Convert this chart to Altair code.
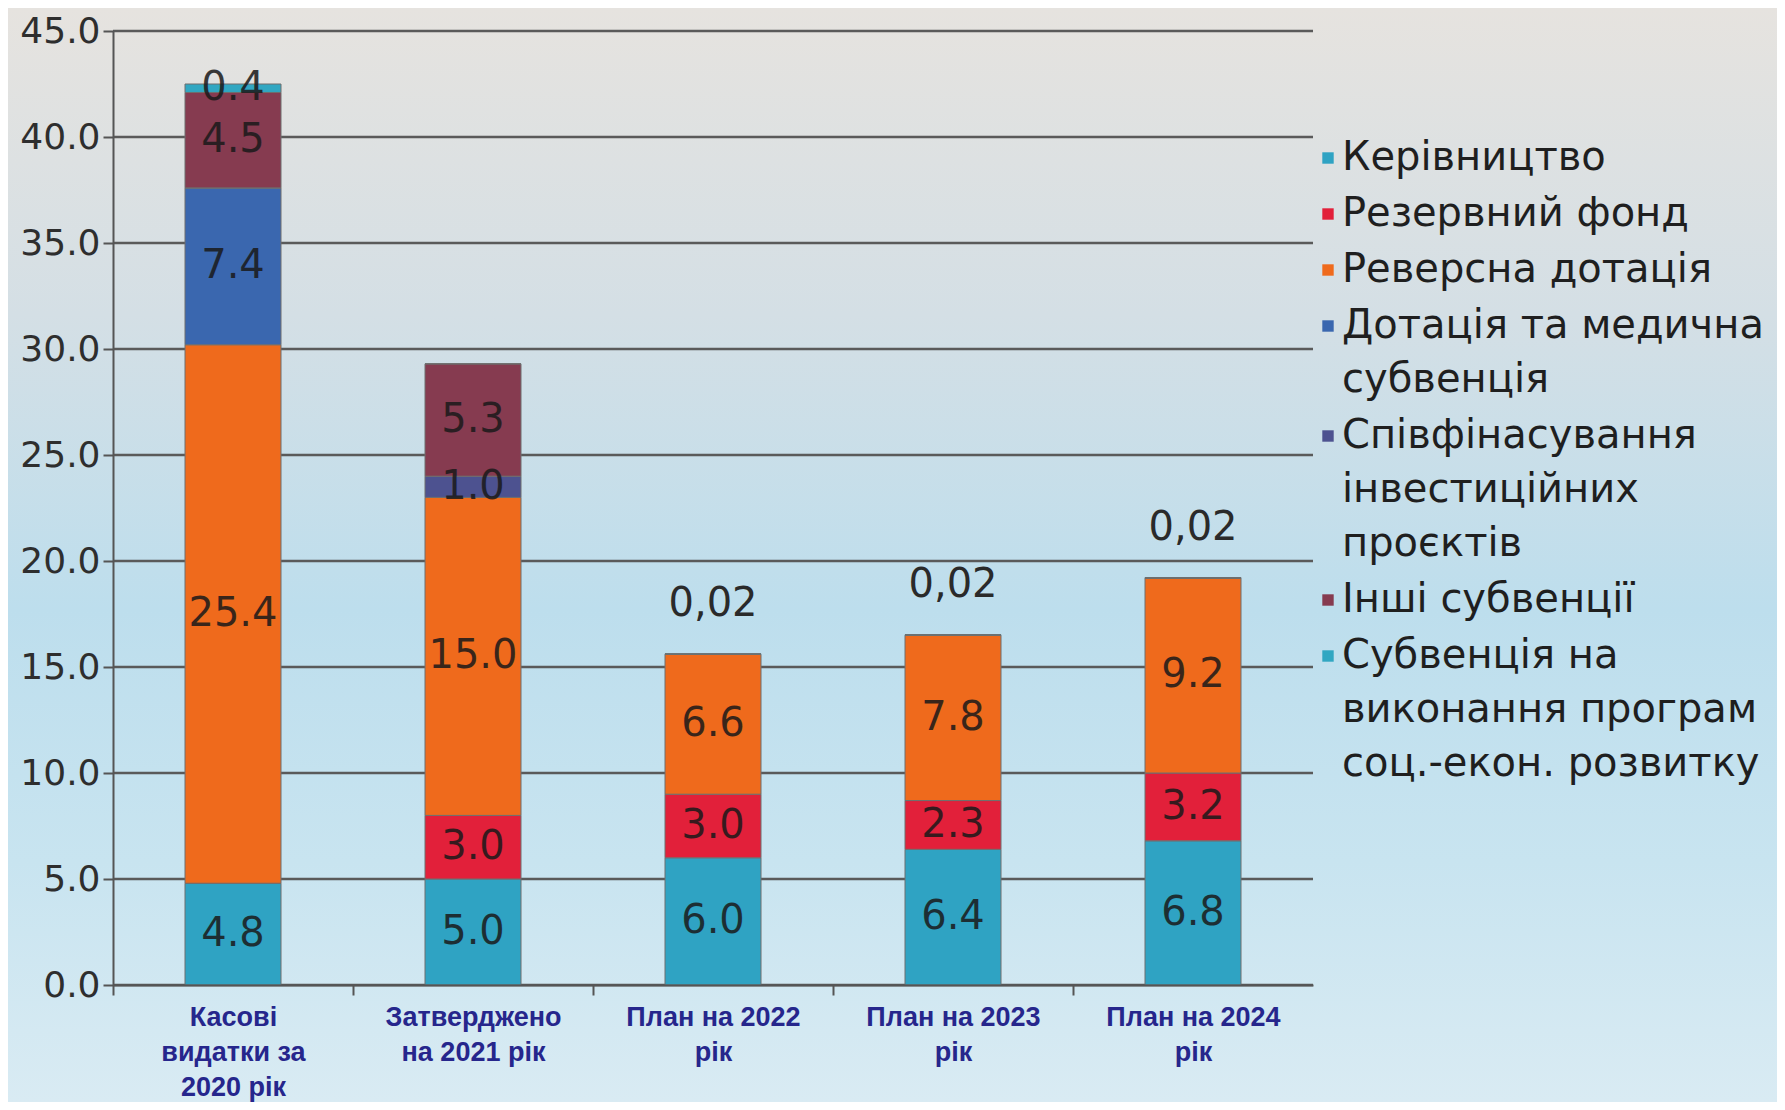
import altair as alt
import pandas as pd

# ---- data -------------------------------------------------------------
CATEGORIES = [
    "Касові|видатки за|2020 рік",
    "Затверджено|на 2021 рік",
    "План на 2022|рік",
    "План на 2023|рік",
    "План на 2024|рік",
]
SERIES = [
    "Керівництво",
    "Резервний фонд",
    "Реверсна дотація",
    "Дотація та медична|субвенція",
    "Співфінасування|інвестиційних|проєктів",
    "Інші субвенції",
    "Субвенція на|виконання програм|соц.-екон. розвитку",
]
COLORS = ["#2fa3c3", "#e2203a", "#ef6a1c", "#3a67af", "#4d5290", "#863b50", "#31a7c2"]

VALUES = {
    "Керівництво": [4.8, 5.0, 6.0, 6.4, 6.8],
    "Резервний фонд": [0.0, 3.0, 3.0, 2.3, 3.2],
    "Реверсна дотація": [25.4, 15.0, 6.6, 7.8, 9.2],
    "Дотація та медична|субвенція": [7.4, 0.0, 0.0, 0.0, 0.0],
    "Співфінасування|інвестиційних|проєктів": [0.0, 1.0, 0.0, 0.0, 0.0],
    "Інші субвенції": [4.5, 5.3, 0.0, 0.0, 0.0],
    "Субвенція на|виконання програм|соц.-екон. розвитку": [0.4, 0.0, 0.02, 0.02, 0.02],
}
Y_TICKS = [0, 5, 10, 15, 20, 25, 30, 35, 40, 45]

rows = []
for si, s in enumerate(SERIES):
    for ci, c in enumerate(CATEGORIES):
        rows.append({"category": c, "series": s, "order": si, "value": VALUES[s][ci]})
df = pd.DataFrame(rows)
grid_df = pd.DataFrame({"tick": Y_TICKS})

W, H = 1200, 954
PAD_L, PAD_T = 105, 23
PAD_R = 1769 - PAD_L - W
PAD_B = 1094 - PAD_T - H

FONT = "DejaVu Sans, Liberation Sans, sans-serif"

base = alt.Chart(df).transform_stack(
    stack="value", groupby=["category"], as_=["y0", "y1"],
    sort=[alt.SortField("order", order="ascending")],
).transform_calculate(mid="(datum.y0 + datum.y1) / 2")

x_enc = alt.X(
    "category:N", sort=CATEGORIES, title=None,
    scale=alt.Scale(paddingInner=0.6, paddingOuter=0.3),
    axis=alt.Axis(
        labelExpr="split(datum.label, '|')",
        labelAngle=0, labelFont="Liberation Sans, Arial, sans-serif",
        labelFontWeight="bold", labelFontSize=27, labelColor="#26268c",
        labelLineHeight=35, labelPadding=9, labelBaseline="top", labelLimit=400,
        tickOffset=-120, labelOffset=120, tickSize=10, tickColor="#555", tickWidth=2,
        domainColor="#555", domainWidth=2, grid=False, zindex=1,
    ),
)
y_scale = alt.Scale(domain=[0, 45], nice=False)

background = alt.Chart(df).mark_rect(
    color=alt.Gradient(
        gradient="linear", x1=0, y1=0, x2=0, y2=1,
        stops=[
            alt.GradientStop(color="#e6e3df", offset=0),
            alt.GradientStop(color="#d4dfe5", offset=0.28),
            alt.GradientStop(color="#bddeed", offset=0.55),
            alt.GradientStop(color="#c8e4f0", offset=0.78),
            alt.GradientStop(color="#d9ebf3", offset=1),
        ],
    )
).encode(
    x=alt.value(-PAD_L), x2=alt.value(W + PAD_R),
    y=alt.value(-PAD_T), y2=alt.value(H + PAD_B),
)

gridlines = alt.Chart(grid_df).mark_rule(color="#5a5a5a", strokeWidth=2.5).encode(
    y=alt.Y("tick:Q", scale=y_scale),
    x=alt.value(0), x2=alt.value(W),
)

bars = base.mark_bar(stroke="#6f6f6f", strokeWidth=1).encode(
    x=x_enc,
    y=alt.Y("y0:Q", scale=y_scale, title=None,
            axis=alt.Axis(values=Y_TICKS, format=".1f",
                          labelFontSize=36, labelColor="#2e2e2e", labelFont=FONT,
                          labelPadding=3, tickSize=10, tickColor="#555", tickWidth=2,
                          domainColor="#555", domainWidth=2,
                          grid=False, zindex=1)),
    y2="y1:Q",
    color=alt.Color("series:N", sort=SERIES,
                    scale=alt.Scale(domain=SERIES, range=COLORS),
                    legend=alt.Legend(
                        title=None, orient="none", legendX=1195, legendY=107,
                        labelExpr="split(datum.label, '|')",
                        labelFont=FONT, labelFontSize=40, labelColor="#1f1f1f",
                        labelLimit=700, labelOffset={"expr": "-6"},
                        symbolType="square", symbolSize=130, symbolStrokeWidth=0,
                        rowPadding=16,
                    )),
    order=alt.Order("order:Q"),
)

inner_labels = base.transform_filter("datum.value >= 0.1").mark_text(
    font=FONT, fontSize=40, color="#1a1a1a", opacity=0.85, baseline="middle", align="center"
).encode(
    x=alt.X("category:N", sort=CATEGORIES),
    y=alt.Y("mid:Q", scale=y_scale),
    text=alt.Text("value:Q", format=".1f"),
)

top_labels = base.transform_filter("datum.value > 0 && datum.value < 0.1").transform_calculate(
    lab="replace(format(datum.value, '.2f'), '.', ',')"
).mark_text(
    font=FONT, fontSize=40, color="#2a2a2a", baseline="middle", align="center", dy=-50
).encode(
    x=alt.X("category:N", sort=CATEGORIES),
    y=alt.Y("y1:Q", scale=y_scale),
    text="lab:N",
)

chart = alt.layer(background, gridlines, bars, inner_labels, top_labels).properties(
    width=W, height=H,
    autosize=alt.AutoSizeParams(type="none"),
    padding={"left": PAD_L, "top": PAD_T, "right": PAD_R, "bottom": PAD_B},
    background="#d9ebf3",
).configure(style={"guide-label": {"lineHeight": 54}}).configure_view(stroke=None)

chart.save("out.html", embed_options={"renderer": "svg", "actions": False})
